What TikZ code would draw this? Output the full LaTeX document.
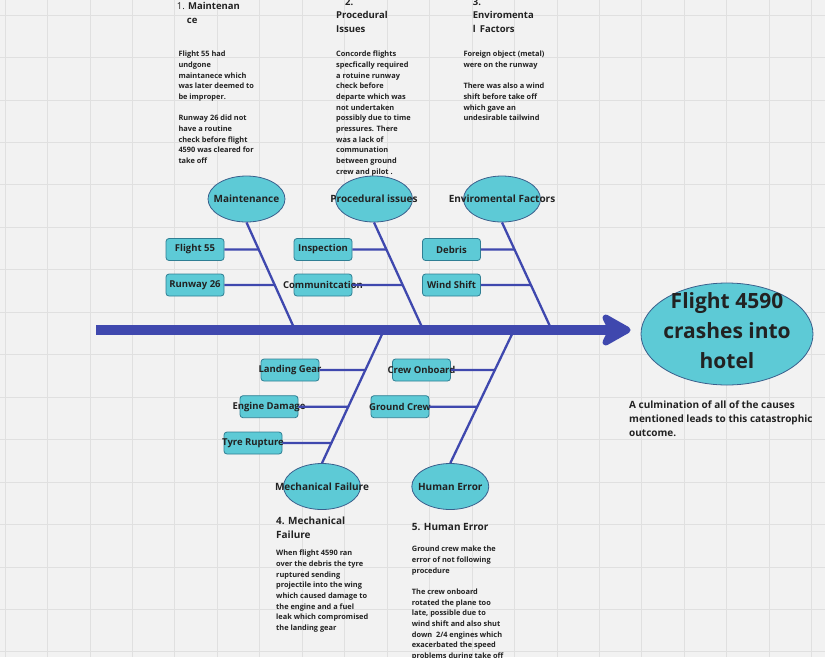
\documentclass[tikz,border=0pt]{standalone}
\usepackage{fontspec}
\setmainfont{Open Sans}
\usetikzlibrary{shapes.geometric,arrows.meta,calc}
\definecolor{bg}{HTML}{F2F2F2}
\definecolor{gridc}{HTML}{E0E0E0}
\definecolor{bonec}{HTML}{3F48AE}
\definecolor{cyanf}{HTML}{5DCAD6}
\definecolor{elledge}{HTML}{3A5F8C}
\definecolor{boxedge}{HTML}{2F7E93}
\definecolor{txt}{HTML}{222222}
\newcommand{\ov}[1]{\makebox[0pt]{#1}}
\begin{document}
\begin{tikzpicture}[x=1pt,y=-1pt,
  cause/.style={ellipse, draw=elledge, fill=cyanf, line width=0.8pt, minimum width=77pt, minimum height=46pt, inner sep=0pt, text=txt, font=\bfseries\fontsize{10}{12}\selectfont},
  sub/.style={rectangle, rounded corners=3pt, draw=boxedge, fill=cyanf, line width=0.8pt, minimum width=58pt, minimum height=22pt, inner sep=0pt, text=txt, font=\bfseries\fontsize{9.5}{11}\selectfont},
  bone/.style={draw=bonec, line width=2.3pt},
  twig/.style={draw=bonec, line width=2.2pt},
  head/.style={anchor=north west, inner sep=0pt, align=left, text=txt, font=\bfseries\fontsize{9.5}{13.4}\selectfont},
  headb/.style={anchor=north west, inner sep=0pt, align=left, text=txt, font=\bfseries\fontsize{10}{14.3}\selectfont},
  body/.style={anchor=north west, inner sep=0pt, align=left, text=txt, font=\bfseries\fontsize{7.4}{10.67}\selectfont},
  capt/.style={anchor=north west, inner sep=0pt, align=left, text=txt, font=\bfseries\fontsize{10}{14}\selectfont}]
\useasboundingbox (0,0) rectangle (825,657);
\fill[bg] (0,0) rectangle (825,657);
\foreach \i in {0,...,19} \draw[gridc, line width=0.7pt] ({5+42.45*\i},0) -- ({5+42.45*\i},657);
\foreach \j in {0,...,15} \draw[gridc, line width=0.7pt] (0,{15+42.45*\j}) -- (825,{15+42.45*\j});

% top texts
\node[head] (h1) at (176.7,2.2) {{\mdseries 1.} Maintenan\\\hspace*{10pt}ce};
\node[head] (h2) at (336,-1.8) {\hspace*{9pt}2.\\Procedural\\Issues};
\node[head] (h3) at (472.7,-1.8) {3.\\Enviromenta\\l\hspace*{4pt}Factors};
\node[body] (b1) at (178.3,51.1) {Flight 55 had\\undgone\\maintanece which\\was later deemed to\\be improper.\\[10.67pt]Runway 26 did not\\have a routine\\check before flight\\4590 was cleared for\\take off};
\node[body] (b2) at (336,51.1) {Concorde flights\\specfically required\\a rotuine runway\\check before\\departe which was\\not undertaken\\possibly due to time\\pressures. There\\was a lack of\\communation\\between ground\\crew and pilot .};
\node[body] (b3) at (463.3,51.1) {Foreign object (metal)\\were on the runway\\[10.67pt]There was also a wind\\shift before take off\\which gave an\\undesirable tailwind};

% cause ellipses
\node[cause] (mt) at (246.5,199) {\ov{Maintenance}};
\node[cause] (pi) at (374,199) {\ov{Procedural issues}};
\node[cause] (ef) at (502,199) {\ov{Enviromental Factors}};
\node[cause] (mf) at (322,486.5) {\ov{Mechanical Failure}};
\node[cause] (he) at (450.3,486.5) {\ov{Human Error}};

% spine points
\coordinate (s1) at (295,330);
\coordinate (s2) at (423.3,330);
\coordinate (s3) at (551.7,330);
\coordinate (s4) at (384,330);
\coordinate (s5) at (514,330);
\coordinate (s0) at (96,330);

\draw[bone] (mt.south) -- (s1);
\draw[bone] (pi.south) -- (s2);
\draw[bone] (ef.south) -- (s3);
\draw[bone] (mf.north) -- (s4);
\draw[bone] (he.north) -- (s5);

% final effect
\node[ellipse, draw=elledge, fill=cyanf, line width=0.8pt, minimum width=172pt, minimum height=102pt, inner sep=0pt, text=txt, font=\bfseries\fontsize{21}{30}\selectfont] (fin) at (727,334) {\ov{\smash{\raisebox{-4pt}{\begin{tabular}{@{}c@{}}Flight 4590\\crashes into\\hotel\end{tabular}}}}};

\draw[draw=bonec, line width=10pt, -{Stealth[length=35pt,width=39pt,inset=9pt,round]}] (s0) -- ($(fin.west)+(-10,-4)$);

% sub causes
\node[sub] (f55) at (195,249.5) {\ov{Flight 55}};
\node[sub] (r26) at (195,285) {\ov{Runway 26}};
\node[sub] (ins) at (323,249.5) {\ov{Inspection}};
\node[sub] (com) at (323,285) {\ov{Communitcation}};
\node[sub] (deb) at (451.5,249.5) {\ov{Debris}};
\node[sub] (ws) at (451.5,285) {\ov{Wind Shift}};
\node[sub] (lg) at (290,370) {\ov{Landing Gear}};
\node[sub] (ed) at (269,406.7) {\ov{Engine Damage}};
\node[sub] (tr) at (253,443) {\ov{Tyre Rupture}};
\node[sub] (co) at (421.5,370) {\ov{Crew Onboard}};
\node[sub] (gc) at (400,406.7) {\ov{Ground Crew}};

\draw[twig] (f55.east) -- (intersection of mt.south--s1 and f55.east--f55.west);
\draw[twig] (r26.east) -- (intersection of mt.south--s1 and r26.east--r26.west);
\draw[twig] (ins.east) -- (intersection of pi.south--s2 and ins.east--ins.west);
\draw[twig] (com.east) -- (intersection of pi.south--s2 and com.east--com.west);
\draw[twig] (deb.east) -- (intersection of ef.south--s3 and deb.east--deb.west);
\draw[twig] (ws.east) -- (intersection of ef.south--s3 and ws.east--ws.west);
\draw[twig] (lg.east) -- (intersection of mf.north--s4 and lg.east--lg.west);
\draw[twig] (ed.east) -- (intersection of mf.north--s4 and ed.east--ed.west);
\draw[twig] (tr.east) -- (intersection of mf.north--s4 and tr.east--tr.west);
\draw[twig] (co.east) -- (intersection of he.north--s5 and co.east--co.west);
\draw[twig] (gc.east) -- (intersection of he.north--s5 and gc.east--gc.west);

% bottom texts
\node[headb] (h4) at (276,516.7) {4. Mechanical\\Failure};
\node[body] (b4) at (276,549.8) {When flight 4590 ran\\over the debris the tyre\\ruptured sending\\projectile into the wing\\which caused damage to\\the engine and a fuel\\leak which compromised\\the landing gear};
\node[headb] (h5) at (411.7,522.7) {5. Human Error};
\node[body] (b5) at (411.7,546.1) {Ground crew make the\\error of not following\\procedure\\[10.67pt]The crew onboard\\rotated the plane too\\late, possible due to\\wind shift and also shut\\down\ \ 2/4 engines which\\exacerbated the speed\\problems during take off};

\node[capt] (cap) at (629,401) {A culmination of all of the causes\\mentioned leads to this catastrophic\\outcome.};
\end{tikzpicture}
\end{document}
